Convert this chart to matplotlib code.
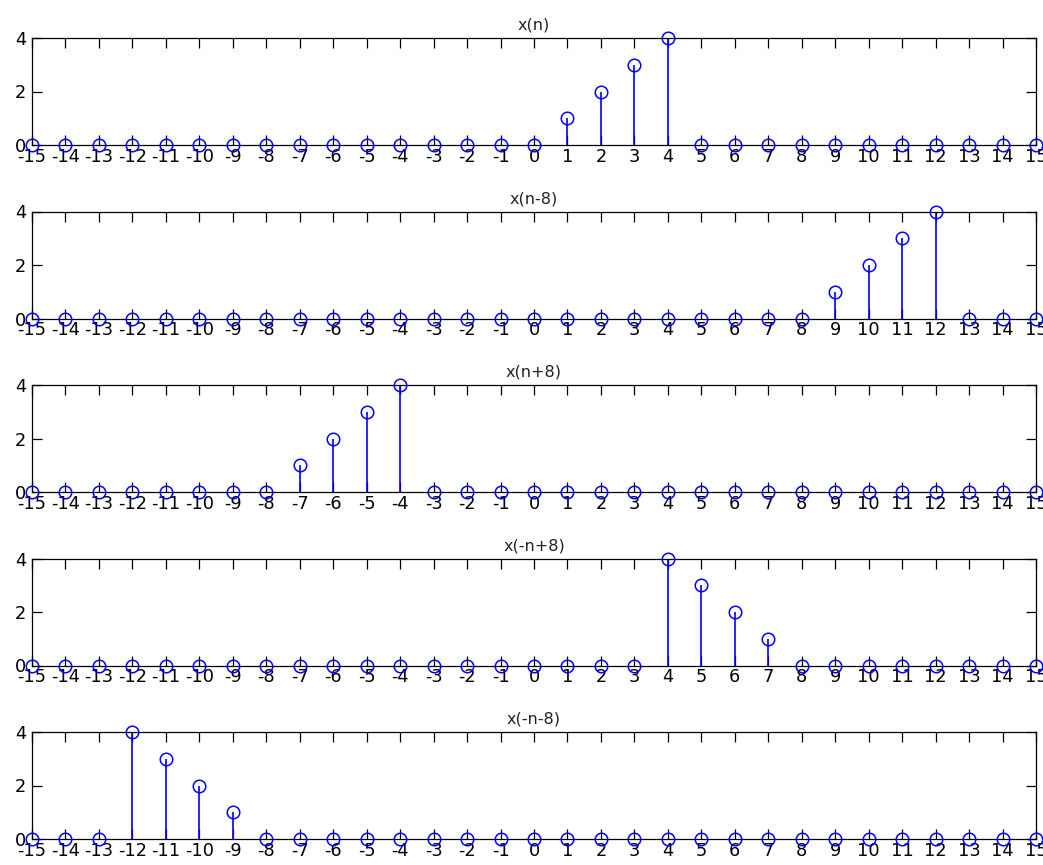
import numpy as np
import matplotlib
matplotlib.use('Agg')
import matplotlib.pyplot as plt

plt.rcParams['font.family'] = 'DejaVu Sans'
plt.rcParams['axes.unicode_minus'] = False

n = np.arange(-15, 16)
titles = ['x(n)', 'x(n-8)', 'x(n+8)', 'x(-n+8)', 'x(-n-8)']

# nonzero samples of each sequence (index -> value)
x_n = {1: 1, 2: 2, 3: 3, 4: 4}
x_n_minus8 = {9: 1, 10: 2, 11: 3, 12: 4}
x_n_plus8 = {-7: 1, -6: 2, -5: 3, -4: 4}
x_neg_n_plus8 = {4: 4, 5: 3, 6: 2, 7: 1}
x_neg_n_minus8 = {-12: 4, -11: 3, -10: 2, -9: 1}
sequences = [x_n, x_n_minus8, x_n_plus8, x_neg_n_plus8, x_neg_n_minus8]

xticklabels = [str(v) for v in n]
yticks = [0, 2, 4]

W, H = 1043, 865
fig = plt.figure(figsize=(W / 100, H / 100), dpi=100)

left, right = 32, 1036
for i, (title, seq) in enumerate(zip(titles, sequences)):
    top = 38 + i * 173.5
    bot = top + 107
    ax = fig.add_axes([left / W, 1 - bot / H, (right - left) / W, (bot - top) / H])
    y = np.array([seq.get(k, 0) for k in n])
    markerline, stemlines, baseline = ax.stem(n, y, linefmt='b-', markerfmt='bo', basefmt=' ')
    markerline.set_markerfacecolor('none')
    markerline.set_markeredgecolor('#0000ff')
    markerline.set_markersize(9)
    markerline.set_markeredgewidth(1.1)
    markerline.set_clip_on(False)
    markerline.set_zorder(5)
    stemlines.set_color('#0000ff')
    stemlines.set_linewidth(1.2)
    stemlines.set_clip_on(False)

    ax.set_xlim(-15, 15)
    ax.set_ylim(0, 4)
    ax.set_xticks(n)
    ax.set_xticklabels(xticklabels)
    ax.set_yticks(yticks)
    ax.tick_params(direction='in', length=7, width=0.9, top=True, right=True,
                   labelsize=12.8, colors='black')
    ax.tick_params(axis='x', pad=2)
    ax.tick_params(axis='y', pad=4)
    for sp in ax.spines.values():
        sp.set_linewidth(0.9)
    ax.set_title(title, fontsize=11.5, color='#222222', pad=6)

fig.savefig('out.png', dpi=100)
